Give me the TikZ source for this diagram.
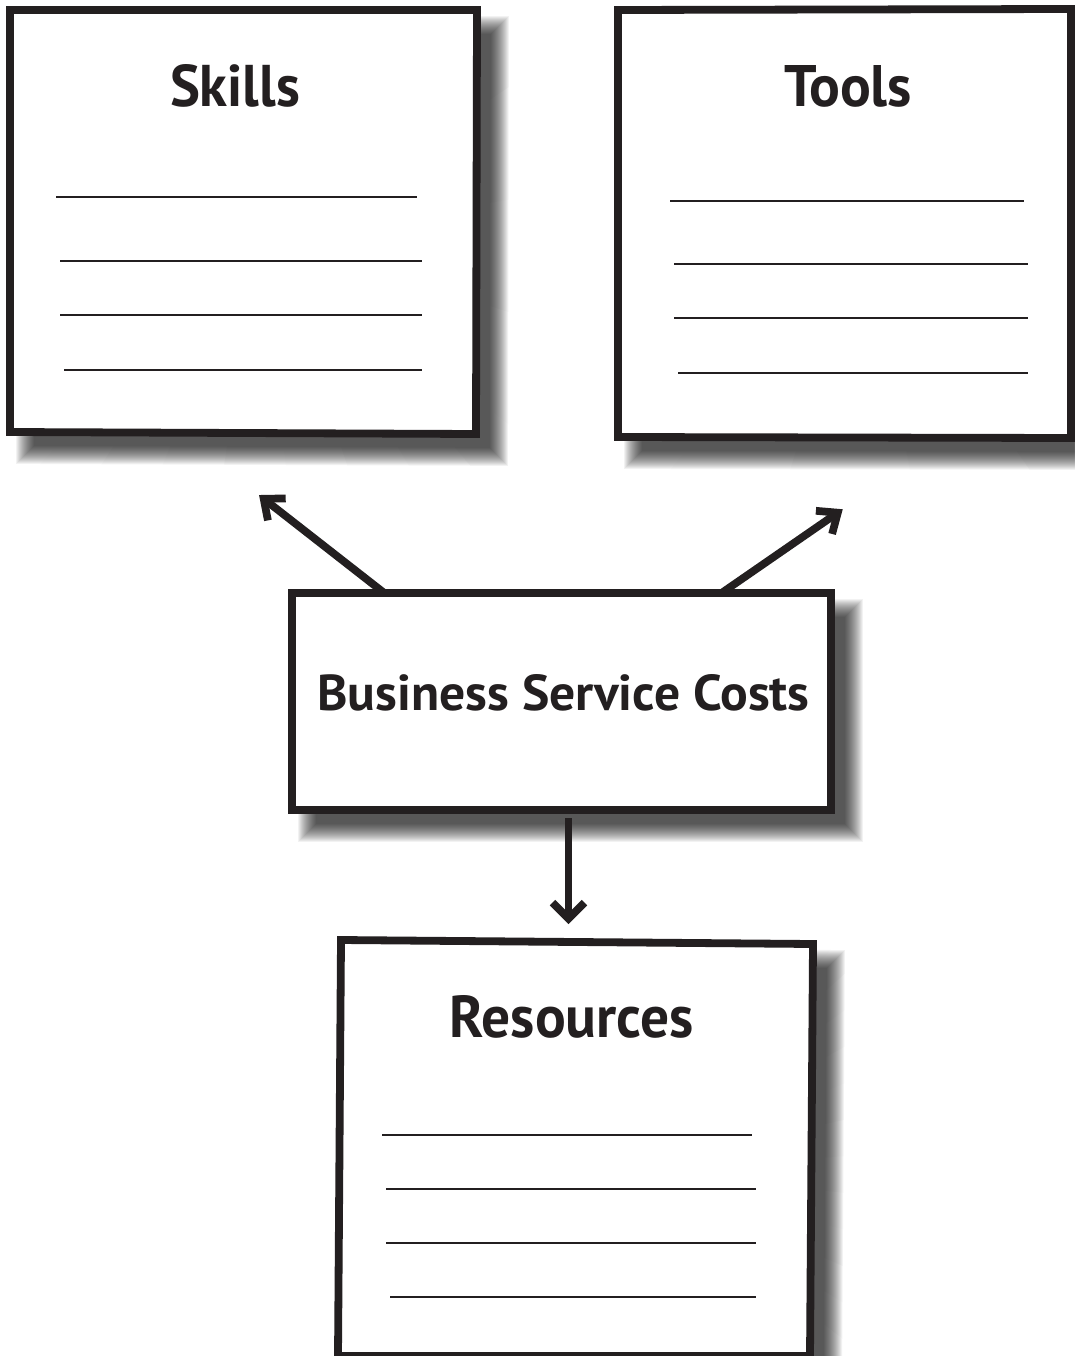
\documentclass[tikz,border=0pt]{standalone}
\usepackage{fontspec}
\setmainfont{PT Sans}
\usepackage{graphicx}
\usetikzlibrary{calc}
\definecolor{ink}{HTML}{231F20}
\newcommand\dropshade[4]{%
  \foreach \sh in {0,...,18}{%
    \fill[black,opacity=0.05] ($(#1)+(24.1-\sh,24.1-\sh)$) -- ($(#2)+(13.9+\sh,24.1-\sh)$)
      -- ($(#3)+(13.9+\sh,13.9+\sh)$) -- ($(#4)+(24.1-\sh,13.9+\sh)$) -- cycle;
  }}
\tikzset{
  boxline/.style={draw=ink, fill=white, line width=7.8pt, line join=miter},
  rule/.style={draw=ink, line width=2.6pt},
  conn/.style={draw=ink, line width=7.7pt},
  barb/.style={draw=ink, line width=7.7pt, line join=miter, line cap=butt},
  title/.style={text=ink, font=\bfseries, inner sep=0pt, anchor=base},
}
\begin{document}
\begin{tikzpicture}[x=1pt,y=-1pt]
\useasboundingbox (0,0) rectangle (1074,1356);
\fill[white] (0,0) rectangle (1074,1356);
% box corners
\coordinate (skTL) at (10,10);   \coordinate (skTR) at (477,10);
\coordinate (skBR) at (476,434); \coordinate (skBL) at (10,432);
\coordinate (toTL) at (618,10);  \coordinate (toTR) at (1071,9);
\coordinate (toBR) at (1071,438);\coordinate (toBL) at (618,437);
\coordinate (bsTL) at (292,593); \coordinate (bsTR) at (831,593);
\coordinate (bsBR) at (831,810); \coordinate (bsBL) at (292,810);
\coordinate (reTL) at (341,940); \coordinate (reTR) at (813,944);
\coordinate (reBR) at (810,1356);\coordinate (reBL) at (338,1356);
% shadows
\dropshade{skTL}{skTR}{skBR}{skBL}
\dropshade{toTL}{toTR}{toBR}{toBL}
\dropshade{bsTL}{bsTR}{bsBR}{bsBL}
\dropshade{reTL}{reTR}{reBR}{reBL}
% boxes
\path[boxline] (skTL) -- (skTR) -- (skBR) -- (skBL) -- cycle;
\path[boxline] (toTL) -- (toTR) -- (toBR) -- (toBL) -- cycle;
\path[boxline] (bsTL) -- (bsTR) -- (bsBR) -- (bsBL) -- cycle;
\path[boxline] (reTL) -- (reTR) -- (reBR) -- (reBL) -- cycle;
% writing lines
\draw[rule] (56,197) -- (417,197);
\draw[rule] (60,261) -- (422,261);
\draw[rule] (60,315) -- (422,315);
\draw[rule] (64,370) -- (422,370);
\draw[rule] (670,201) -- (1024,201);
\draw[rule] (674,264) -- (1028,264);
\draw[rule] (674,318) -- (1028,318);
\draw[rule] (678,373) -- (1028,373);
\draw[rule] (382,1135) -- (752,1135);
\draw[rule] (386,1189) -- (756,1189);
\draw[rule] (386,1243) -- (756,1243);
\draw[rule] (390,1297) -- (756,1297);
% titles
\node[title] (skills) at (235,107) {\resizebox{130pt}{42pt}{Skills}};
\node[title] (tools) at (848,107) {\resizebox{128pt}{41pt}{Tools}};
\node[title] (bsc) at (563.5,710) {\resizebox{492pt}{36pt}{Business Service Costs}};
\node[title] (resources) at (572,1037) {\resizebox{244pt}{42pt}{Resources}};
% connectors
\coordinate (bscL) at (383,592);
\coordinate (toSkills) at (263.7,498.8);
\coordinate (bscR) at (723,592);
\coordinate (toTools) at (837.8,512.7);
\coordinate (bscD) at (568.5,818);
\coordinate (toRes) at (568.5,918.6);
\draw[conn] (bscL) -- (toSkills);
\draw[barb] ($(toSkills)+(22,-0.4)$) -- (toSkills) -- ($(toSkills)+(4.2,21.6)$);
\draw[conn] (bscR) -- (toTools);
\draw[barb] ($(toTools)+(-21.9,-1.9)$) -- (toTools) -- ($(toTools)+(-5.7,21.25)$);
\draw[conn] (bscD) -- (toRes);
\draw[barb] ($(toRes)+(-16,-16)$) -- (toRes) -- ($(toRes)+(16,-16)$);
\end{tikzpicture}
\end{document}
